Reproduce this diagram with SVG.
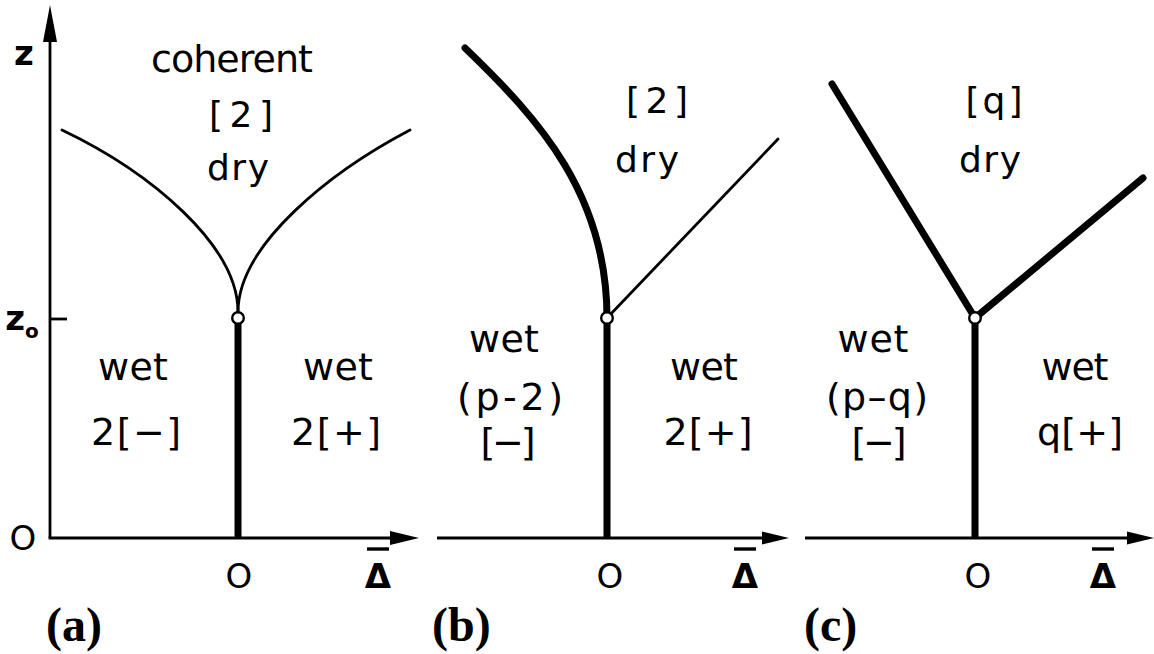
<svg xmlns="http://www.w3.org/2000/svg" width="1154" height="654" viewBox="0 0 1154 654">
<style>
.lbl{font-family:"DejaVu Sans","Liberation Sans",sans-serif;font-size:38px;fill:#000;text-anchor:middle}
.up{font-size:36px}
.ax{font-family:"DejaVu Sans","Liberation Sans",sans-serif;font-size:34px;fill:#000;text-anchor:middle}
.cap{font-family:"Liberation Serif","DejaVu Serif",serif;font-weight:bold;font-size:48px;fill:#000;text-anchor:start}
.axis{stroke:#000;stroke-width:2.8;fill:none}
.thin{stroke:#000;stroke-width:2.8;fill:none;stroke-linecap:round}
.thick{stroke:#000;stroke-width:7;fill:none;stroke-linecap:round}
.head{fill:#000}
.pt{fill:#fff;stroke:#000;stroke-width:2.4}
</style>
<g id="connectors">
  <line class="axis" x1="50" y1="538" x2="50" y2="38"/>
  <polygon class="head" points="50,5 43,42 57,42"/>
  <line class="axis" x1="48.6" y1="538" x2="394" y2="538"/>
  <polygon class="head" points="419,538 390,531 390,545"/>
  <line class="axis" x1="50" y1="319" x2="67" y2="319"/>
  <path class="thin" d="M62,130 C150,172 238,245 238,312"/>
  <path class="thin" d="M410,130 C330,172 238,245 238,312"/>
  <line class="thick" x1="238" y1="318" x2="238" y2="538" style="stroke-linecap:butt"/>
  <line class="axis" x1="437" y1="538" x2="765" y2="538"/>
  <polygon class="head" points="789,538 762,531.5 762,544.5"/>
  <path class="thick" d="M465,48 C540,120 607,195 607,318"/>
  <line class="thin" x1="607" y1="318" x2="778" y2="139"/>
  <line class="thick" x1="607" y1="318" x2="607" y2="538" style="stroke-linecap:butt"/>
  <line class="axis" x1="805" y1="538" x2="1130" y2="538"/>
  <polygon class="head" points="1154,538 1127,531.5 1127,544.5"/>
  <line class="thick" x1="832" y1="84" x2="975" y2="318"/>
  <line class="thick" x1="975" y1="318" x2="1143" y2="178"/>
  <line class="thick" x1="975" y1="318" x2="975" y2="538" style="stroke-linecap:butt"/>
</g>
<g id="points">
  <circle class="pt" cx="238" cy="318" r="5.8"/>
  <circle class="pt" cx="607" cy="318" r="5.8"/>
  <circle class="pt" cx="975" cy="318" r="5.8"/>
</g>
<g id="axis-labels">
  <text class="ax" x="24" y="65" font-weight="bold" font-size="32">z</text>
  <text class="ax" x="22" y="330" font-weight="bold" font-size="32">z<tspan font-size="20" dy="8">o</tspan></text>
  <text class="ax" x="23" y="550" font-size="37">O</text>
  <text class="ax" x="239" y="588" font-size="37">O</text>
  <text class="ax" x="610" y="588" font-size="37">O</text>
  <text class="ax" x="978" y="588" font-size="37">O</text>
  <text class="ax" x="378" y="588" font-size="38" font-weight="bold">Δ</text>
  <line class="axis" x1="367" y1="549" x2="389" y2="549" style="stroke-width:3.4"/>
  <text class="ax" x="745" y="588" font-size="38" font-weight="bold">Δ</text>
  <line class="axis" x1="734" y1="549" x2="756" y2="549" style="stroke-width:3.4"/>
  <text class="ax" x="1103" y="588" font-size="38" font-weight="bold">Δ</text>
  <line class="axis" x1="1092" y1="549" x2="1114" y2="549" style="stroke-width:3.4"/>
</g>
<g id="panel-a">
  <text class="lbl" x="232" y="72" font-size="35" textLength="162" lengthAdjust="spacing">coherent</text>
  <text class="lbl up" x="241" y="127" textLength="64" lengthAdjust="spacing">[2]</text>
  <text class="lbl up" x="238" y="180" textLength="62" lengthAdjust="spacing">dry</text>
  <text class="lbl" x="133" y="380" textLength="70" lengthAdjust="spacing">wet</text>
  <text class="lbl" x="136" y="445" textLength="90" lengthAdjust="spacing">2[−]</text>
  <text class="lbl" x="338" y="380" textLength="70" lengthAdjust="spacing">wet</text>
  <text class="lbl" x="336" y="445" textLength="90" lengthAdjust="spacing">2[+]</text>
  <text class="cap" x="46" y="641">(a)</text>
</g>
<g id="panel-b">
  <text class="lbl up" x="657" y="113" textLength="62" lengthAdjust="spacing">[2]</text>
  <text class="lbl up" x="647" y="172" textLength="64" lengthAdjust="spacing">dry</text>
  <text class="lbl" x="504" y="352" textLength="70" lengthAdjust="spacing">wet</text>
  <text class="lbl" x="510" y="410" textLength="106" lengthAdjust="spacing">(p-2)</text>
  <text class="lbl" x="508" y="455" textLength="55" lengthAdjust="spacing">[−]</text>
  <text class="lbl" x="704" y="380" textLength="68" lengthAdjust="spacing">wet</text>
  <text class="lbl" x="708" y="445" textLength="89" lengthAdjust="spacing">2[+]</text>
  <text class="cap" x="432" y="641">(b)</text>
</g>
<g id="panel-c">
  <text class="lbl up" x="994" y="113" textLength="57" lengthAdjust="spacing">[q]</text>
  <text class="lbl up" x="990" y="172" textLength="62" lengthAdjust="spacing">dry</text>
  <text class="lbl" x="873" y="352" textLength="71" lengthAdjust="spacing">wet</text>
  <text class="lbl" x="877" y="410" textLength="102" lengthAdjust="spacing">(p–q)</text>
  <text class="lbl" x="879" y="455" textLength="55" lengthAdjust="spacing">[−]</text>
  <text class="lbl" x="1075" y="380" textLength="67" lengthAdjust="spacing">wet</text>
  <text class="lbl" x="1080" y="445" textLength="86" lengthAdjust="spacing">q[+]</text>
  <text class="cap" x="804" y="641">(c)</text>
</g>
</svg>
